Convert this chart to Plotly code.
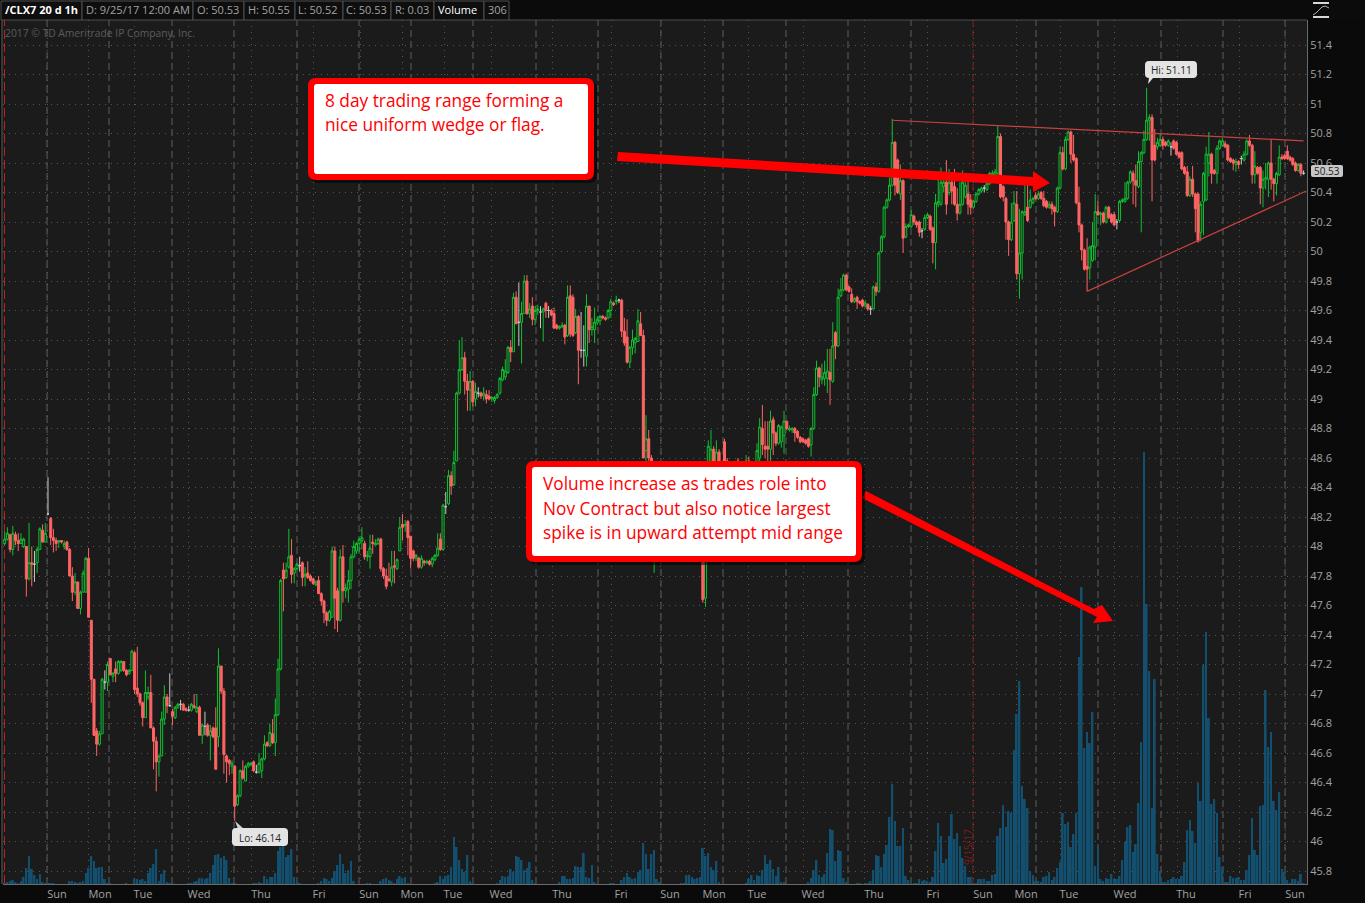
import plotly.graph_objects as go

# Hourly bars of /CLX7, prices in cents
opens = [
4802,4805,4808,4798,4808,4804,4802,4800,4800,4778,4789,4788,4789,4798,4811,4803,4822,4819,4806,4804,
4803,4804,4800,4803,4798,4780,4769,4776,4758,4769,4769,4792,4750,4710,4675,4666,4673,4708,4708,4724,
4712,4717,4714,4716,4722,4716,4714,4716,4728,4704,4700,4694,4684,4698,4701,4677,4668,4654,4658,4683,
4698,4692,4688,4684,4691,4693,4693,4690,4689,4689,4692,4688,4691,4672,4678,4679,4672,4677,4677,4671,
4719,4702,4658,4655,4651,4651,4625,4631,4648,4641,4651,4652,4654,4647,4647,4648,4656,4667,4665,4673,
4667,4686,4717,4784,4779,4786,4794,4782,4785,4787,
4789,4780,4782,4780,4778,4774,4777,4768,4763,4755,4750,4752,4797,4770,4750,4793,4770,4771,4777,4793,
4797,4802,4804,4802,4793,4793,4803,4801,4802,4805,4785,4780,4778,4776,4787,4785,4797,4815,4814,4817,
4807,4797,4792,4792,4786,4790,4789,4790,4788,4791,4794,4805,4798,4827,4829,4848,4842,4858,4904,4920,
4928,4912,4906,4912,4900,4904,4904,4902,4903,4902,4900,4899,4901,4904,4913,4915,4918,4935,4932,4969,
4952,4952,4958,4980,4958,4963,4954,4960,4959,4959,4965,4960,4960,4958,4950,4948,4949,4950,4943,4970,
4969,4945,4956,4933,4933,4929,4963,4947,4947,4952,4953,4956,4955,4955,4960,4965,4966,4967,4967,4946,
4942,4925,4935,4938,4939,4951,4943,4865,4873,4860,
4830,4845,4830,4822,4828,4815,4820,4808,4815,4805,4812,4806,4814,4820,4812,4806,4815,4825,4830,4765,
4830,4835,4866,4840,4864,4840,4871,4858,4848,4850,4852,4858,4845,4850,4846,4858,4846,4852,4848,4860,
4880,4868,4868,4866,4886,4877,4870,4871,4875,4885,4879,4879,4880,4878,4874,4873,4872,4873,4869,4880,
4903,4921,4913,4914,4914,4918,4912,4945,4936,4970,4974,4984,4976,4971,4966,4969,4966,4967,4963,4964,
4961,4961,4976,4973,
5000,5010,5030,5035,5045,5074,5062,5039,5048,5010,5017,5017,5024,5020,5020,5014,5015,5023,5024,5016,
5006,5032,5032,5044,5047,5040,5047,5044,5032,5026,5032,5037,5039,5035,5030,5034,5039,5041,5043,5042,
5046,5052,5052,5053,5078,5044,5036,5020,5008,5021,5032,4985,4999,5025,5030,5030,5033,5038,5036,5040,
5036,5034,5030,5032,5030,5027,5043,5067,5056,5076,5081,5066,5063,5033,5018,5001,4990,4989,4994,5003,
5027,5025,5026,5020,5030,5025,5025,5020,5021,5034,5034,5036,5047,5053,5048,5044,5061,5067,5076,5089,
5091,5072,5071,5072,5076,5074,5072,5071,5075,5074,5067,5067,5057,5054,5038,5049,5039,5039,5013,5034,
5035,5060,5066,5055,5053,5070,5072,5073,5072,5063,5062,5059,5061,5063,5062,5066,5075,5072,5052,5057,
5057,5043,5049,5049,5060,5049,5046,5052,5064,5065,5068,5064,5063,5060,5055,5059,5053]
closes = [
4805,4809,4798,4809,4804,4802,4805,4805,4778,4789,4788,4788,4798,4812,4803,4809,4822,4806,4804,4802,
4804,4803,4802,4798,4780,4769,4776,4758,4769,4782,4792,4752,4710,4672,4666,4673,4710,4708,4720,4713,
4714,4714,4722,4722,4716,4713,4716,4729,4703,4700,4694,4684,4701,4701,4677,4668,4654,4658,4683,4698,
4692,4692,4685,4691,4693,4693,4689,4689,4689,4693,4691,4691,4672,4679,4678,4672,4675,4671,4649,4719,
4702,4659,4654,4653,4653,4624,4631,4648,4643,4651,4653,4653,4648,4647,4653,4656,4666,4665,4674,4667,
4686,4717,4777,4778,4784,4793,4781,4785,4788,4787,
4779,4781,4779,4777,4775,4776,4768,4763,4755,4750,4756,4797,4765,4750,4793,4770,4772,4777,4793,4800,
4802,4805,4806,4793,4794,4799,4802,4802,4805,4785,4780,4773,4777,4786,4786,4791,4813,4813,4815,4806,
4792,4792,4794,4786,4792,4789,4790,4788,4792,4794,4799,4798,4828,4827,4848,4841,4857,4904,4920,4928,
4912,4906,4912,4898,4905,4904,4902,4904,4900,4900,4901,4901,4903,4914,4920,4919,4935,4932,4969,4951,
4952,4958,4980,4958,4961,4954,4960,4961,4959,4961,4960,4960,4957,4948,4948,4949,4950,4942,4969,4944,
4943,4956,4933,4933,4933,4963,4947,4949,4952,4954,4956,4955,4954,4960,4966,4964,4967,4967,4946,4938,
4925,4935,4940,4941,4953,4943,4860,4873,4860,4845,
4845,4830,4822,4828,4815,4820,4808,4815,4805,4812,4806,4814,4820,4812,4806,4815,4825,4830,4764,4830,
4868,4866,4840,4864,4840,4855,4845,4845,4842,4850,4852,4845,4850,4846,4858,4846,4852,4848,4865,4881,
4869,4866,4866,4885,4877,4870,4882,4881,4885,4880,4880,4880,4877,4874,4871,4871,4870,4868,4880,4903,
4921,4915,4915,4918,4919,4913,4936,4936,4969,4974,4984,4974,4973,4966,4968,4966,4965,4963,4965,4961,
4961,4976,4973,4999,
5010,5030,5035,5045,5074,5045,5040,5048,5009,5017,5018,5025,5020,5018,5013,5014,5023,5025,5015,5006,
5033,5034,5047,5047,5032,5047,5041,5032,5026,5032,5047,5045,5032,5030,5034,5039,5042,5043,5043,5046,
5053,5053,5054,5078,5037,5037,5020,5008,5020,5033,4985,4999,5027,5027,5021,5035,5036,5036,5039,5036,
5031,5030,5032,5029,5027,5043,5067,5056,5076,5081,5066,5062,5033,5018,5001,4988,4988,5003,5004,5027,
5025,5026,5020,5030,5023,5020,5018,5020,5034,5035,5036,5047,5054,5048,5045,5061,5067,5076,5089,5091,
5062,5062,5074,5076,5072,5072,5075,5071,5070,5066,5064,5056,5053,5038,5049,5039,5029,5007,5032,5053,
5066,5066,5053,5053,5070,5075,5075,5071,5062,5061,5060,5061,5059,5063,5066,5075,5072,5052,5058,5053,
5043,5049,5050,5060,5049,5046,5053,5064,5063,5063,5063,5062,5059,5055,5059,5053,5053]
highs = [
4810,4813,4808,4814,4810,4809,4809,4806,4800,4816,4800,4797,4800,4813,4815,4816,4847,4820,4812,4806,
4804,4804,4804,4804,4799,4786,4782,4776,4770,4784,4793,4799,4750,4710,4677,4675,4711,4716,4722,4724,
4715,4722,4723,4723,4722,4717,4717,4730,4729,4732,4701,4695,4716,4705,4713,4678,4671,4659,4688,4706,
4700,4714,4690,4692,4694,4696,4694,4691,4692,4694,4700,4700,4692,4680,4688,4680,4679,4678,4691,4731,
4719,4704,4659,4656,4655,4652,4632,4649,4655,4652,4654,4654,4655,4652,4660,4657,4672,4668,4680,4683,
4697,4724,4778,4789,4789,4812,4805,4786,4789,4793,
4790,4786,4790,4781,4779,4777,4780,4769,4764,4756,4757,4800,4800,4772,4798,4801,4775,4784,4795,4804,
4803,4806,4813,4804,4797,4808,4808,4805,4806,4806,4786,4785,4789,4797,4797,4792,4820,4822,4818,4818,
4807,4798,4795,4793,4794,4791,4791,4791,4793,4795,4809,4809,4829,4837,4852,4851,4865,4905,4940,4942,
4932,4917,4919,4913,4911,4908,4905,4908,4906,4906,4902,4902,4904,4915,4922,4927,4936,4940,4972,4973,
4979,4966,4984,4984,4965,4969,4963,4964,4963,4962,4966,4963,4961,4962,4951,4950,4952,4951,4977,4977,
4971,4961,4957,4959,4950,4971,4963,4955,4962,4956,4957,4957,4956,4961,4968,4966,4970,4968,4968,4955,
4954,4936,4947,4942,4961,4959,4947,4889,4879,4862,
4850,4848,4835,4832,4830,4824,4822,4818,4817,4816,4814,4818,4825,4822,4815,4820,4830,4835,4832,4835,
4872,4879,4868,4872,4866,4858,4873,4860,4850,4853,4858,4860,4855,4852,4862,4861,4856,4854,4870,4887,
4896,4885,4885,4892,4888,4878,4883,4882,4892,4885,4882,4881,4881,4879,4875,4874,4873,4874,4881,4908,
4926,4922,4924,4926,4934,4934,4952,4946,4975,4982,4985,4985,4977,4975,4969,4970,4967,4968,4967,4965,
4963,4977,4979,5000,
5011,5031,5036,5050,5090,5075,5063,5059,5049,5019,5019,5028,5025,5021,5021,5016,5025,5026,5025,5017,
5039,5050,5057,5050,5062,5056,5048,5056,5043,5047,5055,5047,5047,5039,5035,5040,5043,5044,5045,5047,
5054,5055,5056,5085,5080,5045,5037,5021,5033,5041,5041,5029,5028,5045,5047,5042,5037,5040,5041,5041,
5041,5035,5034,5034,5031,5044,5071,5071,5078,5082,5082,5079,5064,5044,5019,5002,5009,5004,5020,5039,
5034,5027,5027,5031,5031,5026,5027,5022,5035,5036,5047,5048,5055,5055,5059,5068,5068,5082,5111,5093,
5093,5083,5077,5080,5078,5075,5076,5074,5076,5075,5068,5068,5058,5058,5051,5058,5040,5040,5034,5054,
5071,5081,5067,5056,5072,5076,5077,5075,5073,5064,5063,5063,5062,5065,5068,5076,5079,5073,5068,5058,
5058,5055,5060,5061,5076,5050,5054,5072,5066,5066,5072,5065,5064,5061,5060,5060,5055]
lows = [
4801,4804,4796,4794,4801,4797,4802,4799,4766,4777,4773,4776,4782,4798,4803,4803,4822,4801,4796,4797,
4799,4802,4798,4797,4780,4763,4767,4758,4754,4769,4769,4752,4694,4672,4658,4665,4673,4703,4702,4713,
4708,4708,4713,4715,4715,4712,4713,4716,4700,4698,4692,4678,4684,4696,4677,4649,4634,4644,4658,4679,
4687,4692,4679,4683,4690,4689,4689,4688,4688,4688,4690,4687,4672,4666,4672,4671,4655,4670,4649,4664,
4700,4646,4640,4645,4646,4614,4624,4630,4642,4641,4650,4651,4647,4646,4646,4643,4655,4664,4664,4666,
4658,4685,4716,4756,4778,4785,4775,4775,4784,4783,
4773,4773,4778,4776,4774,4773,4768,4760,4748,4746,4749,4752,4744,4742,4749,4762,4765,4762,4771,4792,
4795,4796,4798,4791,4790,4785,4795,4801,4801,4783,4778,4771,4776,4773,4775,4784,4797,4804,4810,4794,
4785,4790,4790,4785,4785,4787,4788,4787,4786,4790,4793,4797,4797,4822,4828,4835,4841,4858,4903,4919,
4903,4892,4892,4895,4895,4901,4900,4899,4897,4899,4898,4897,4900,4903,4912,4913,4917,4925,4932,4951,
4936,4924,4958,4957,4955,4950,4950,4957,4948,4939,4955,4955,4956,4948,4947,4947,4948,4937,4942,4942,
4942,4944,4910,4928,4922,4922,4938,4943,4938,4950,4950,4954,4953,4954,4955,4963,4964,4965,4942,4936,
4924,4921,4930,4931,4939,4943,4860,4858,4858,4835,
4782,4826,4815,4818,4810,4810,4804,4803,4802,4803,4802,4804,4810,4808,4803,4804,4812,4820,4762,4759,
4828,4830,4835,4835,4836,4836,4840,4842,4840,4846,4848,4840,4842,4842,4844,4842,4844,4845,4846,4858,
4862,4860,4858,4858,4862,4868,4869,4867,4863,4879,4878,4877,4871,4873,4870,4870,4869,4867,4861,4879,
4902,4908,4910,4909,4904,4896,4911,4927,4935,4969,4973,4973,4972,4965,4965,4961,4964,4962,4962,4960,
4957,4961,4970,4972,
4999,5009,5029,5034,5044,5038,5039,5035,4999,5009,5016,5016,5018,5016,5010,5009,5014,5022,5014,4992,
4988,5030,5031,5040,5025,5038,5032,5031,5021,5025,5031,5036,5025,5025,5029,5033,5038,5040,5040,5041,
5045,5051,5050,5052,5036,5034,5008,4997,5007,5020,4981,4968,4981,5024,5020,5029,5032,5035,5035,5035,
5030,5029,5029,5025,5017,5026,5042,5055,5055,5075,5060,5061,5032,5013,4994,4987,4973,4981,4993,4994,
5024,5018,5019,5019,5022,5019,5017,5015,5020,5033,5033,5035,5046,5032,5030,5043,5013,5066,5075,5075,
5034,5061,5069,5071,5069,5071,5071,5065,5069,5065,5063,5055,5052,5037,5037,5037,5013,5006,5007,5011,
5034,5051,5046,5052,5046,5069,5071,5070,5061,5060,5055,5054,5056,5059,5061,5065,5071,5046,5046,5052,
5032,5030,5042,5037,5042,5034,5038,5051,5062,5062,5062,5061,5058,5054,5054,5051,5052]
# Volume per bar, hundreds of contracts
volumes = [
1,2,3,4,2,1,3,7,16,28,15,9,5,10,2,1,1,1,1,0,0,0,0,0,3,3,2,1,2,3,
11,16,28,23,16,17,17,5,1,1,0,0,0,0,0,1,0,0,5,5,4,5,3,11,16,20,35,3,10,14,
2,1,1,0,0,0,0,0,1,1,2,3,6,6,5,6,11,19,29,30,26,28,24,6,1,1,0,0,0,0,
0,0,1,1,2,1,8,5,7,7,11,33,37,38,27,29,35,7,2,1,
0,0,0,0,0,0,1,3,6,5,3,6,13,19,30,20,11,14,23,3,
0,0,0,0,1,1,0,0,0,3,5,6,4,3,1,5,8,6,7,1,
0,0,0,0,0,0,0,0,0,1,2,8,5,8,9,17,47,37,24,15,
12,29,3,1,0,0,0,0,0,0,0,0,1,4,8,7,8,15,12,28,
27,24,14,16,22,4,1,0,0,0,0,0,0,0,0,2,8,8,5,5,
6,18,17,17,31,7,6,19,2,0,0,0,0,0,1,1,0,0,4,7,
11,7,5,6,12,14,41,30,15,30,34,5,2,0,0,0,0,0,0,0,
1,1,9,9,7,5,6,7,36,28,31,17,14,23,2,0,0,0,0,0,
0,0,0,0,1,5,9,4,9,8,14,29,20,24,15,8,17,2,2,0,
0,0,0,0,0,0,0,2,6,14,
24,9,7,10,31,55,54,23,34,33,6,2,0,0,0,1,1,0,1,1,3,14,29,28,17,30,39,67,100,63,
38,
38,56,8,4,1,1,1,5,3,4,3,2,7,33,61,48,21,25,48,70,45,51,38,26,18,7,7,1,1,5,
5,5,3,3,9,10,48,56,79,57,73,71,134,170,203,98,85,76,13,9,3,3,2,7,8,12,4,7,16,22,71,
60,62,37,50,71,227,297,136,152,141,172,18,38,5,3,6,5,10,5,5,8,24,42,57,59,32,40,81,142,432,
280,213,76,205,30,13,2,2,4,5,7,5,5,8,22,54,64,53,41,101,83,219,252,166,80,85,71,27,17,2,
2,8,6,6,7,4,4,14,29,66,34,29,78,79,194,137,152,83,74,92,15,12,4,1,5,5,3,10,1]

day_labels = ["Sun","Mon","Tue","Wed","Thu","Fri","Sun","Mon","Tue","Wed","Thu","Fri","Sun","Mon","Tue","Wed","Thu","Fri","Sun","Mon","Tue","Wed","Thu","Fri","Sun"]
price_ticks = [45.8,46,46.2,46.4,46.6,46.8,47,47.2,47.4,47.6,47.8,48,48.2,48.4,48.6,48.8,49,49.2,49.4,49.6,49.8,50,50.2,50.4,50.6,50.8,51,51.2,51.4]
price_tick_text = ["45.8","46","46.2","46.4","46.6","46.8","47","47.2","47.4","47.6","47.8","48","48.2","48.4","48.6","48.8","49","49.2","49.4","49.6","49.8","50","50.2","50.4","50.6","50.8","51","51.2","51.4"]
wedge_top_bars = [328, 480]; wedge_top_prices = [50.89, 50.75]
wedge_low_bars = [400, 481]; wedge_low_prices = [49.73, 50.41]

n = len(opens)
assert len(closes) == n and len(highs) == n and len(lows) == n and len(volumes) == n, (n, len(closes), len(highs), len(lows), len(volumes))

W, H = 1365, 903
L, R, T, B = 3, 1307, 20, 884
STEP, X0 = 2.706, 4.7
def bar_of(px): return (px - X0) / STEP
def price_of(py): return 51.4 - (py - 45) / 147.5
def xp(px): return (px - L) / (R - L)
def yp(py): return (B - py) / (B - T)

label_px = [57,100,143,199,261,319,369,412,453,501,562,621,670,714,757,813,874,933,983,1026,1069,1125,1186,1245,1295]
dotted_px = [47,88,134,188,251,313,360,402,444,491,552,611,660,704,748,803,864,927,973,1016,1060,1114,1177,1239,1285]
dashed_px = [47,109,172,234,297,359,411,473,536,598,661,723,786,848,911,1036,1098,1161,1223,1285]

idx = list(range(n))
def pick(seq, keep): return [seq[i] / 100 for i in idx if keep(i)]
up = lambda i: closes[i] > opens[i]
dn = lambda i: closes[i] < opens[i]
fl = lambda i: closes[i] == opens[i]

fig = go.Figure()
fig.add_trace(go.Bar(x=idx, y=volumes, yaxis="y2", marker=dict(color="#13506f", line_width=0), hoverinfo="skip"))
def candle(keep, line, fill):
    fig.add_trace(go.Candlestick(
        x=[i for i in idx if keep(i)], open=pick(opens, keep), high=pick(highs, keep), low=pick(lows, keep), close=pick(closes, keep),
        increasing=dict(line=dict(color=line, width=1), fillcolor=fill),
        decreasing=dict(line=dict(color=line, width=1), fillcolor=fill),
        hoverinfo="skip"))
candle(up, "#10c030", "#1b1b1b")
candle(dn, "#ff6464", "#ff6464")
candle(fl, "#c8c8c8", "#c8c8c8")
for bx, by in ((wedge_top_bars, wedge_top_prices), (wedge_low_bars, wedge_low_prices)):
    fig.add_trace(go.Scatter(x=bx, y=by, mode="lines", line=dict(color="#c84040", width=1.2), hoverinfo="skip"))

shapes, notes = [], []
def vline(px, color, dash):
    shapes.append(dict(type="line", xref="paper", yref="paper", x0=xp(px), x1=xp(px), y0=0, y1=1, layer="below", line=dict(color=color, width=1, dash=dash)))
for p in dashed_px: vline(p, "#5e5e5e", "7px,4px")
vline(973, "#8a1c1c", "7px,4px")
vline(4.5, "#c02020", "9px,4px")
shapes.append(dict(type="line", xref="paper", yref="paper", x0=xp(2), x1=xp(2), y0=0, y1=1, layer="below", line=dict(color="#666666", width=1)))

def poly(points, fill, line=None, layer="above", closed=True):
    d = "M " + " L ".join(f"{xp(x):.5f} {yp(y):.5f}" for x, y in points) + (" Z" if closed else "")
    s = dict(type="path", xref="paper", yref="paper", path=d, layer=layer, fillcolor=fill, line=dict(width=0))
    if line: s["line"] = dict(color=line, width=1)
    shapes.append(s)
def rrect(x0, y0, x1, y1, r, fill, line=None, lw=1):
    c = lambda x, y: f"{xp(x):.5f} {yp(y):.5f}"
    d = (f"M {c(x0+r,y0)} L {c(x1-r,y0)} Q {c(x1,y0)} {c(x1,y0+r)} L {c(x1,y1-r)} Q {c(x1,y1)} {c(x1-r,y1)} "
         f"L {c(x0+r,y1)} Q {c(x0,y1)} {c(x0,y1-r)} L {c(x0,y0+r)} Q {c(x0,y0)} {c(x0+r,y0)} Z")
    s = dict(type="path", xref="paper", yref="paper", path=d, layer="above", fillcolor=fill, line=dict(width=0))
    if line: s["line"] = dict(color=line, width=lw)
    shapes.append(s)
def text(px, py, t, color, size, anchor="left", bold=False, angle=0):
    if anchor == "left":
        px, py = px - 2, py - 1
    notes.append(dict(xref="paper", yref="paper", x=xp(px), y=yp(py), text=f"<b>{t}</b>" if bold else t, showarrow=False,
                      xanchor=anchor, yanchor="middle", textangle=angle, font=dict(family="Open Sans", size=size, color=color)))

# header strip
shapes.append(dict(type="rect", xref="paper", yref="paper", x0=xp(0), x1=xp(1365), y0=yp(0), y1=yp(20), fillcolor="#0b0b0b", line_width=0, layer="below"))
cells = [(1,82),(82,193),(193,244),(244,295),(295,343),(343,391),(391,434),(434,484),(484,509)]
for a, b in cells:
    shapes.append(dict(type="rect", xref="paper", yref="paper", x0=xp(a), x1=xp(b), y0=yp(1), y1=yp(20), line=dict(color="#4e4e4e", width=1), fillcolor="#0e0e0e", layer="below"))
shapes.append(dict(type="line", xref="paper", yref="paper", x0=xp(509), x1=xp(1307), y0=yp(20), y1=yp(20), line=dict(color="#4e4e4e", width=1), layer="below"))
text(5, 10.5, "/CLX7 20 d 1h", "#ffffff", 11, bold=True)
for px, t in ((86,"D: 9/25/17 12:00 AM"),(197,"O: 50.53"),(248,"H: 50.55"),(298,"L: 50.52"),(346,"C: 50.53"),(395,"R: 0.03")):
    text(px, 10.5, t, "#a2a2a2", 11)
text(438, 10.5, "Volume", "#ffffff", 11)
text(488, 10.5, "306", "#a2a2a2", 11)
text(5, 34, "2017 © TD Ameritrade IP Company, Inc.", "#5c5c5c", 10.3)
# chart-style icon, top right
poly([(1313,2),(1329,2),(1329,4),(1313,4)], "#d8d8d8")
poly([(1313,16),(1329,16),(1329,18),(1313,18)], "#d8d8d8")
poly([(1313,15),(1316,13),(1319,10),(1322,7),(1325,6),(1329,8)], "rgba(0,0,0,0)", line="#b0b0b0", closed=False)

text(968, 847, "9/15/17", "#7d1c1c", 10, anchor="center", angle=-90)

# last-price tag and high/low flags
rrect(1311, 165, 1343, 177, 2, "#c8c8c8")
text(1327, 171.3, "50.53", "#202020", 10, anchor="center")
poly([(1149,78),(1153,78),(1148,84)], "#e4e4e4")
rrect(1145, 61, 1197, 78, 4, "#e4e4e4")
text(1171, 70, "Hi: 51.11", "#222222", 10, anchor="center")
poly([(235,821),(238,829),(244,829)], "#cfcfcf")
rrect(232, 828, 288, 846, 4, "#e4e4e4")
text(260, 837.5, "Lo: 46.14", "#222222", 10, anchor="center")

# arrows
poly([(618,152),(1033,177),(1033,171),(1050,183),(1033,192),(1033,186),(617,161)], "#ff0000")
poly([(866,491),(1094,609),(1102,605),(1113,621),(1093,623),(1097,617),(862,498)], "#ff0000")

# call-outs
for x0, y0, x1, y1 in ((308,78,594,180),(526,461,862,562)):
    rrect(x0+3, y0+3, x1+3, y1+3, 8, "rgba(0,0,0,0.55)")
    rrect(x0, y0, x1, y1, 8, "#ff0000")
    rrect(x0+6, y0+6, x1-6, y1-6, 3, "#ffffff")
for px, py, t in ((325,101.5,"8 day trading range forming a"),(325,125.5,"nice uniform wedge or flag."),
                  (543,485,"Volume increase as trades role into"),(543,509,"Nov Contract but also notice largest"),(543,533,"spike is in upward attempt mid range")):
    text(px, py, t, "#ff0000", 17.3)

fig.update_layout(
    width=W, height=H, margin=dict(l=L, r=W-R, t=T, b=H-B, pad=0), autosize=False,
    paper_bgcolor="#0a0a0a", plot_bgcolor="#1b1b1b", showlegend=False, hovermode=False,
    bargap=0.35, boxgap=0.25, boxgroupgap=0, shapes=shapes, annotations=notes,
    xaxis=dict(range=[bar_of(L), bar_of(R)], rangeslider_visible=False, showgrid=False, zeroline=False, fixedrange=True,
               tickvals=[bar_of(p) for p in label_px], ticktext=day_labels, ticks="", showline=True, linecolor="#6a6a6a", linewidth=1,
               tickfont=dict(family="Open Sans", size=11, color="#a2a2a2"),
               minor=dict(tickvals=[bar_of(p) for p in dotted_px], showgrid=True, gridcolor="#565656", griddash="1px,5px", gridwidth=1, ticks="")),
    yaxis=dict(range=[price_of(B), price_of(T)], side="right", tickvals=price_ticks, ticktext=price_tick_text, ticks="", zeroline=False,
               showgrid=True, gridcolor="#565656", griddash="1px,5px", gridwidth=1, showline=True, linecolor="#6a6a6a", linewidth=1, fixedrange=True,
               tickfont=dict(family="Open Sans", size=11, color="#a2a2a2")),
    yaxis2=dict(overlaying="y", range=[0, B-T], visible=False, fixedrange=True),
)
fig.write_html("out.html", config=dict(displayModeBar=False), post_script="document.body.style.margin='0';document.body.style.overflow='hidden';")
